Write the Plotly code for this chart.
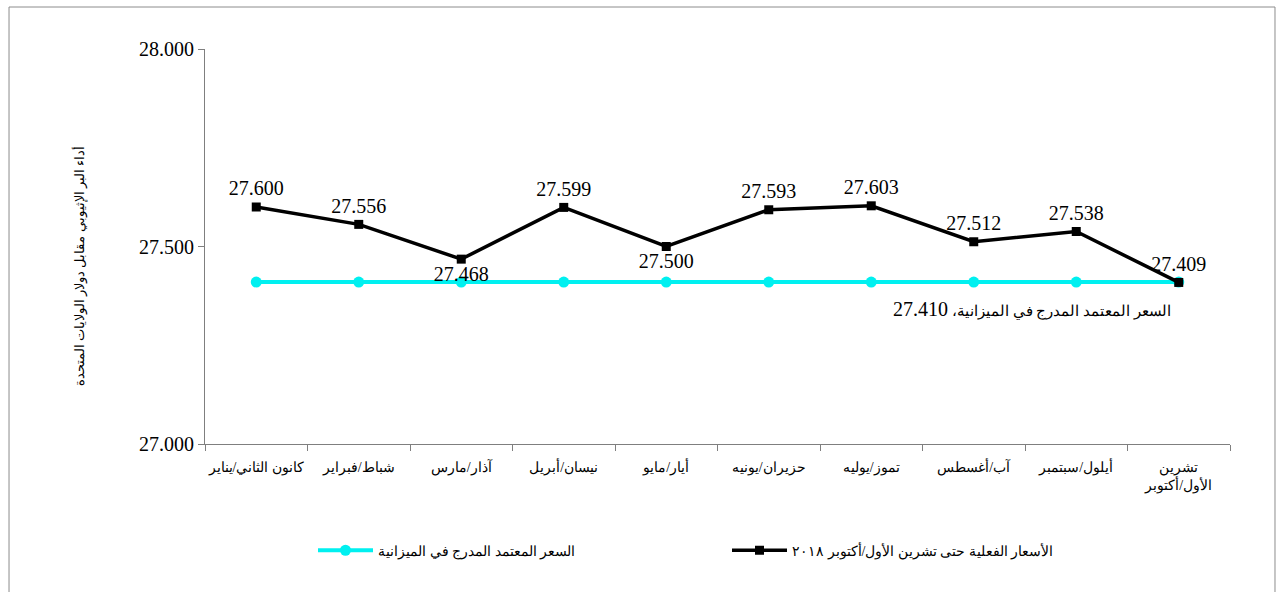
import plotly.graph_objects as go

# data
months = ['كانون الثاني/يناير', 'شباط/فبراير', 'آذار/مارس', 'نيسان/أبريل', 'أيار/مايو',
          'حزيران/يونيه', 'تموز/يوليه', 'آب/أغسطس', 'أيلول/سبتمبر', 'تشرين<br>الأول/أكتوبر']
actual = [27.600, 27.556, 27.468, 27.599, 27.500, 27.593, 27.603, 27.512, 27.538, 27.409]
budget = [27.410] * 10
actual_name = 'الأسعار الفعلية حتى تشرين الأول/أكتوبر ٢٠١٨'
budget_name = 'السعر المعتمد المدرج في الميزانية'
budget_label = 'السعر المعتمد المدرج في الميزانية، <span style="font-size:20px">27.410</span>'
y_title = 'أداء البر الإثيوبي مقابل دولار الولايات المتحدة'

label_pos = ['top center'] * 10
label_pos[2] = 'bottom center'
label_pos[4] = 'bottom center'

serif = 'Liberation Serif, Times New Roman, serif'

fig = go.Figure()

fig.add_trace(go.Scatter(
    x=months, y=budget, name=budget_name, mode='lines+markers',
    line={'color': '#00f0f0', 'width': 4},
    marker={'symbol': 'circle', 'size': 11, 'color': '#00f0f0'},
))

fig.add_trace(go.Scatter(
    x=months, y=actual, name=actual_name, mode='lines+markers+text',
    line={'color': 'black', 'width': 3.5},
    marker={'symbol': 'square', 'size': 9, 'color': 'black'},
    text=['%.3f' % v for v in actual],
    textposition=label_pos,
    textfont={'family': serif, 'size': 20, 'color': 'black'},
    cliponaxis=False,
))

# label for the budget line
fig.add_annotation(
    x=months[-1], y=budget[-1], xref='x', yref='y',
    text=budget_label, showarrow=False,
    xanchor='right', yanchor='top', xshift=-6, yshift=-14,
    font={'family': serif, 'size': 15, 'color': 'black'},
)

# axis title
fig.add_annotation(
    x=-0.133, y=0.45, xref='paper', yref='paper',
    text=y_title, showarrow=False, textangle=-90,
    font={'family': serif, 'size': 13, 'color': 'black'},
)

# outer frame
fig.add_shape(
    type='rect', xref='paper', yref='paper',
    x0=-0.1912, x1=1.0439, y0=-0.4, y1=1.1063,
    line={'color': '#8c8c8c', 'width': 1},
)

fig.update_layout(
    paper_bgcolor='white',
    plot_bgcolor='white',
    width=1281,
    height=592,
    margin={'l': 205, 'r': 51, 't': 49, 'b': 148},
    font={'family': serif, 'color': 'black'},
    showlegend=True,
    legend={
        'orientation': 'h',
        'x': (313 - 205) / 1025, 'xanchor': 'left',
        'y': -0.27, 'yanchor': 'middle',
        'itemwidth': 55,
        'entrywidth': 344,
        'font': {'family': serif, 'size': 14, 'color': 'black'},
    },
    xaxis={
        'range': [-0.5, 9.5],
        'showline': True,
        'linewidth': 1,
        'linecolor': '#7f7f7f',
        'ticks': 'outside',
        'tickson': 'boundaries',
        'ticklen': 6,
        'tickcolor': '#7f7f7f',
        'tickangle': 0,
        'ticklabelstandoff': 10,
        'showgrid': False,
        'tickfont': {'family': serif, 'size': 14},
    },
    yaxis={
        'range': [27.0, 28.0],
        'tickvals': [27.0, 27.5, 28.0],
        'tickformat': '.3f',
        'showline': True,
        'linewidth': 1,
        'linecolor': '#7f7f7f',
        'ticks': 'outside',
        'ticklen': 6,
        'tickcolor': '#7f7f7f',
        'showgrid': False,
        'zeroline': False,
        'tickfont': {'family': serif, 'size': 20},
    },
)

# drop the default page margin so the figure sits at the window's corner
fig.write_html('out.html', config={'displayModeBar': False},
               post_script="document.body.style.margin='0';")
